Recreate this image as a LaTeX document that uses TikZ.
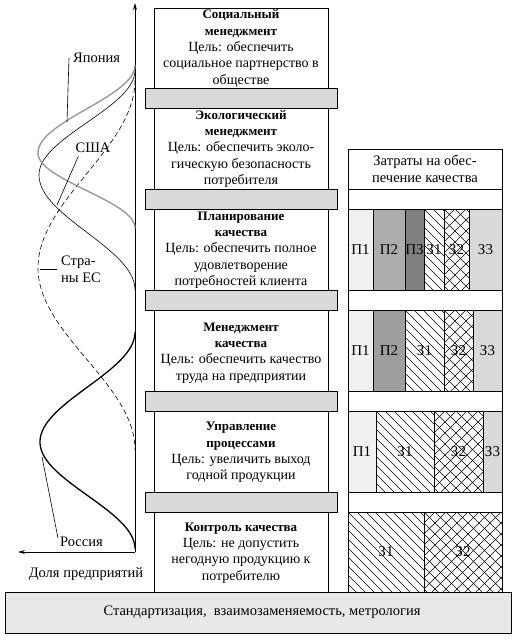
\documentclass[tikz,border=0pt]{standalone}
\usepackage{fontspec}
\setmainfont{Liberation Serif}
\usetikzlibrary{arrows.meta}
\newcommand\mhead[1]{{\fontsize{13}{16.3}\bfseries\selectfont #1}}
% diagonal hatch "\" inside a rectangle
\newcommand\zonefill[4]{%
  \begin{scope}\clip (#1,#2) rectangle (#3,#4);
    \foreach \k in {-108,-99,...,180} \draw[hatchln] (#1+\k,#2) -- ++(100,100);
  \end{scope}
  \draw[ln] (#1,#2) rectangle (#3,#4);}
% diagonal cross hatch inside a rectangle
\newcommand\ztwofill[4]{%
  \begin{scope}\clip (#1,#2) rectangle (#3,#4);
    \foreach \k in {-110,-99,...,200} {\draw[hatchln] (#1+\k,#2) -- ++(100,100);
      \draw[hatchln] (#1+\k,#2) -- ++(-100,100);}
  \end{scope}
  \draw[ln] (#1,#2) rectangle (#3,#4);}
\begin{document}
\begin{tikzpicture}[x=1pt,y=-1pt,
  ln/.style={draw=black,line width=0.8pt},
  hatchln/.style={draw=black,line width=0.6pt},
  whitebox/.style={ln,fill=white},
  graybar/.style={ln,fill=black!15},
  txt/.style={font=\fontsize{14}{16.3}\selectfont,align=center,inner sep=0pt},
  barlbl/.style={font=\fontsize{15}{16.3}\selectfont,inner sep=0pt},
  hdrtxt/.style={font=\fontsize{14.5}{16.3}\selectfont,align=center,inner sep=0pt},
  lbl/.style={font=\fontsize{14.5}{17}\selectfont,inner sep=0pt},
  leader/.style={line width=0.6pt},
  axisarrow/.style={line width=0.9pt,-{Stealth[length=7pt,width=4pt]}},
  pone/.style={ln,fill=black!6},
  ptwo/.style={ln,fill=black!32},
  ptwob/.style={ln,fill=black!38},
  pthree/.style={ln,fill=black!50},
  zthree/.style={ln,fill=black!15},
  japan/.style={draw=black!40,line width=1.4pt},
  usa/.style={draw=black,line width=0.6pt},
  eu/.style={draw=black,line width=0.6pt,dash pattern=on 5pt off 3pt},
  russia/.style={draw=black,line width=1.3pt}
]
\useasboundingbox (0,0) rectangle (522,643);

% ---------- axes ----------
\coordinate (O) at (135,552);
\coordinate (Ytop) at (135,3);
\coordinate (Xend) at (18,552);
\draw[axisarrow] (O) -- (Ytop);
\draw[axisarrow] (O) -- (Xend);

% ---------- curves ----------
\draw[eu] plot[domain=0:1,samples=50] ({135-97*(1-cos(180*\x))/2},{80+188*\x})
  -- plot[domain=1:0,samples=50] ({135-97*(1-cos(180*\x))/2},{450-182*\x});
\draw[usa] plot[domain=0:1,samples=50] ({135-96*(1-cos(180*\x))/2},{70+105*\x})
  -- plot[domain=1:0,samples=50] ({135-96*(1-cos(180*\x))/2},{290-115*\x});
\draw[japan] plot[domain=0:1,samples=50] ({135-97*(1-cos(180*\x))/2},{65+88*\x})
  -- plot[domain=1:0,samples=50] ({135-97*(1-cos(180*\x))/2},{228-75*\x});
\draw[russia] plot[domain=0:1,samples=50] ({135-95*(1-cos(180*\x))/2},{332+110*\x})
  -- plot[domain=1:0,samples=50] ({135-95*(1-cos(180*\x))/2},{549-107*\x});

% ---------- curve labels ----------
\node[lbl,anchor=west] (ljp) at (73,58) {Япония};
\node[lbl] (lus) at (93,148) {США};
\node[lbl,anchor=west,align=left] (leu) at (61,269) {Стра-\\ны ЕС};
\node[lbl,anchor=west] (lru) at (60,542) {Россия};
\node[lbl] (ldol) at (86,574) {Доля предприятий};

\coordinate (cjp) at (67,122);
\coordinate (cus) at (57,205);
\coordinate (ceu) at (40,269);
\coordinate (cru) at (42,457);
\draw[leader] (ljp.west) ++(-4,0) coordinate (ljpa) -- (cjp);
\draw[leader] (lus.south west) ++(3,3) coordinate (lusa) -- (cus);
\draw[leader] (leu.west) ++(-4,0) coordinate (leua) -- (ceu);
\draw[leader] (lru.west) ++(-2,-4) coordinate (lrua) -- (cru);

% ---------- middle column ----------
\draw[whitebox] (154,8) rectangle (328,592);
\foreach \y in {88,189,290,391,492}
  \draw[graybar] (145,\y) rectangle (337,\y+20);

\node[txt] (m1) at (241,48.5) {\mhead{Социальный}\\\mhead{менеджмент}\\Цель: обеспечить\\социальное партнерство в\\обществе};
\node[txt] (m2) at (241,149) {\mhead{Экологический}\\\mhead{менеджмент}\\Цель: обеспечить эколо-\\гическую безопасность\\потребителя};
\node[txt] (m3) at (241,250) {\mhead{Планирование}\\\mhead{качества}\\Цель: обеспечить полное\\удовлетворение\\потребностей клиента};
\node[txt] (m4) at (241,353) {\mhead{Менеджмент}\\\mhead{качества}\\Цель: обеспечить качество\\труда на предприятии};
\node[txt] (m5) at (241,452.5) {\mhead{Управление}\\\mhead{процессами}\\Цель: увеличить выход\\годной продукции};
\node[txt] (m6) at (241,553) {\mhead{Контроль качества}\\Цель: не допустить\\негодную продукцию к\\потребителю};

% ---------- right chart ----------
\draw[whitebox] (348,149) rectangle (502,592);
\draw[ln] (348,189) -- (502,189);
\node[hdrtxt] (hdr) at (425,169) {Затраты на обес-\\печение качества};

% level 3
\draw[pone] (348,209) rectangle (373,290);
\draw[ptwo] (373,209) rectangle (405,290);
\draw[pthree] (405,209) rectangle (424,290);
\zonefill{424}{209}{444}{290}
\ztwofill{444}{209}{469}{290}
\draw[zthree] (469,209) rectangle (502,290);
\node[barlbl] (a1) at (360.5,250) {П1};
\node[barlbl] (a2) at (389,250) {П2};
\node[barlbl] (a3) at (414.5,250) {П3};
\node[barlbl] (a4) at (434,250) {З1};
\node[barlbl] (a5) at (456.5,250) {З2};
\node[barlbl] (a6) at (485.5,250) {З3};

% level 4
\draw[pone] (348,310) rectangle (373,391);
\draw[ptwob] (373,310) rectangle (405,391);
\zonefill{405}{310}{444}{391}
\ztwofill{444}{310}{473}{391}
\draw[zthree] (473,310) rectangle (502,391);
\node[barlbl] (b1) at (360.5,350.5) {П1};
\node[barlbl] (b2) at (389,350.5) {П2};
\node[barlbl] (b3) at (424.5,350.5) {З1};
\node[barlbl] (b4) at (458.5,350.5) {З2};
\node[barlbl] (b5) at (487.5,350.5) {З3};

% level 5
\draw[pone] (348,411) rectangle (376,492);
\zonefill{376}{411}{434}{492}
\ztwofill{434}{411}{483}{492}
\draw[zthree] (483,411) rectangle (502,492);
\node[barlbl] (c1) at (362,451.5) {П1};
\node[barlbl] (c2) at (405,451.5) {З1};
\node[barlbl] (c3) at (458.5,451.5) {З2};
\node[barlbl] (c4) at (492.5,451.5) {З3};

% level 6
\zonefill{348}{512}{424}{592}
\ztwofill{424}{512}{502}{592}
\node[barlbl] (d1) at (386,552) {З1};
\node[barlbl] (d2) at (463,552) {З2};

% ---------- bottom bar ----------
\draw[ln,fill=black!9] (5,592) rectangle (511,633);
\node[hdrtxt] (base) at (262,612) {Стандартизация,\ \ взаимозаменяемость, метрология};
\end{tikzpicture}
\end{document}
